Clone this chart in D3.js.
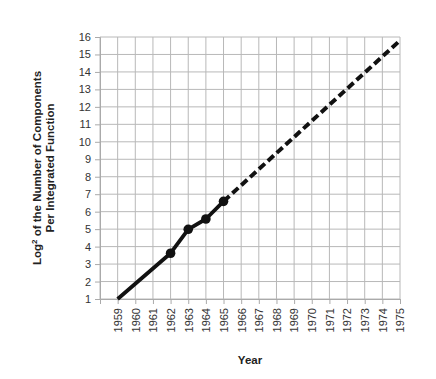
<!DOCTYPE html>
<html><head><meta charset="utf-8">
<script src="https://cdn.jsdelivr.net/npm/d3@7/dist/d3.min.js"></script>
<style>body{margin:0;background:#fff;}svg{display:block;}</style>
</head><body><svg id="c" width="436" height="379"></svg>
<script>
const years = [1959, 1962, 1963, 1964, 1965];
const values = [1, 3.62, 4.99, 5.58, 6.59];
const markerYears = [1962, 1963, 1964, 1965];
const markerValues = [3.62, 4.99, 5.58, 6.59];
const projYears = [1965, 1975];
const projValues = [6.59, 15.8];
const xTicks = d3.range(1959, 1976);
const yTicks = d3.range(1, 17);

const svg = d3.select("#c");
const m = {l:100, r:36, t:37, b:80};
const W = 436, H = 379;
const x = d3.scaleLinear().domain([1958, 1975]).range([m.l, W - m.r]);
const y = d3.scaleLinear().domain([1, 16]).range([299, m.t]);
const font = "Liberation Sans, Arial, sans-serif";

// grid
const g = svg.append("g");
g.selectAll(".vg").data(d3.range(1958, 1976)).enter().append("line")
  .attr("x1", d => x(d)).attr("x2", d => x(d)).attr("y1", y(16)).attr("y2", y(1))
  .attr("stroke", "#b8b8b8").attr("stroke-width", 1);
g.selectAll(".hg").data(yTicks).enter().append("line")
  .attr("x1", x(1958)).attr("x2", x(1975)).attr("y1", d => y(d)).attr("y2", d => y(d))
  .attr("stroke", "#b8b8b8").attr("stroke-width", 1);

// axes
const xa = svg.append("g").attr("transform", `translate(0,${y(1)})`)
  .call(d3.axisBottom(x).tickValues(xTicks).tickFormat(d3.format("d")).tickSize(5).tickPadding(4));
xa.select(".domain").attr("stroke", "#aaa");
xa.selectAll(".tick line").attr("stroke", "#aaa");
xa.selectAll(".tick text").attr("transform", "rotate(-90)").attr("text-anchor", "end")
  .attr("x", -9).attr("y", 0).attr("dy", "0.35em")
  .style("font-family", font).style("font-size", "11px").attr("fill", "#333");

const ya = svg.append("g").attr("transform", `translate(${x(1958)},0)`)
  .call(d3.axisLeft(y).tickValues(yTicks).tickSize(5).tickPadding(4));
ya.select(".domain").attr("stroke", "#aaa");
ya.selectAll(".tick line").attr("stroke", "#aaa");
ya.selectAll(".tick text").style("font-family", font)
  .style("font-size", "11px").attr("fill", "#333");

// lines
const line = d3.line().x(d => x(d[0])).y(d => y(d[1]));
svg.append("path").datum(projYears.map((d,i) => [d, projValues[i]]))
  .attr("d", line).attr("fill", "none").attr("stroke", "#111").attr("stroke-width", 4)
  .attr("stroke-dasharray", "8,4");
svg.append("path").datum(years.map((d,i) => [d, values[i]]))
  .attr("d", line).attr("fill", "none").attr("stroke", "#111").attr("stroke-width", 3.8)
  .attr("stroke-linejoin", "round");
svg.selectAll(".pt").data(markerYears.map((d,i) => [d, markerValues[i]])).enter().append("circle")
  .attr("cx", d => x(d[0])).attr("cy", d => y(d[1])).attr("r", 4.8).attr("fill", "#111");

// labels
svg.append("text").attr("x", x(1966.5)).attr("y", 364).attr("text-anchor", "middle")
  .style("font-family", font).style("font-size", "11.5px")
  .style("font-weight", "bold").attr("fill", "#222").text("Year");
const yl = svg.append("text").attr("transform", "translate(41,168) rotate(-90)")
  .attr("text-anchor", "middle")
  .style("font-family", font).style("font-size", "11.5px")
  .style("font-weight", "bold").attr("fill", "#222");
yl.append("tspan").attr("x", 0).attr("dy", 0).text("Log");
yl.append("tspan").attr("dy", -4).style("font-size", "8px").text("2");
yl.append("tspan").attr("dy", 4).text(" of the Number of Components");
yl.append("tspan").attr("x", 0).attr("dy", 13).text("Per Integrated Function");
</script></body></html>
